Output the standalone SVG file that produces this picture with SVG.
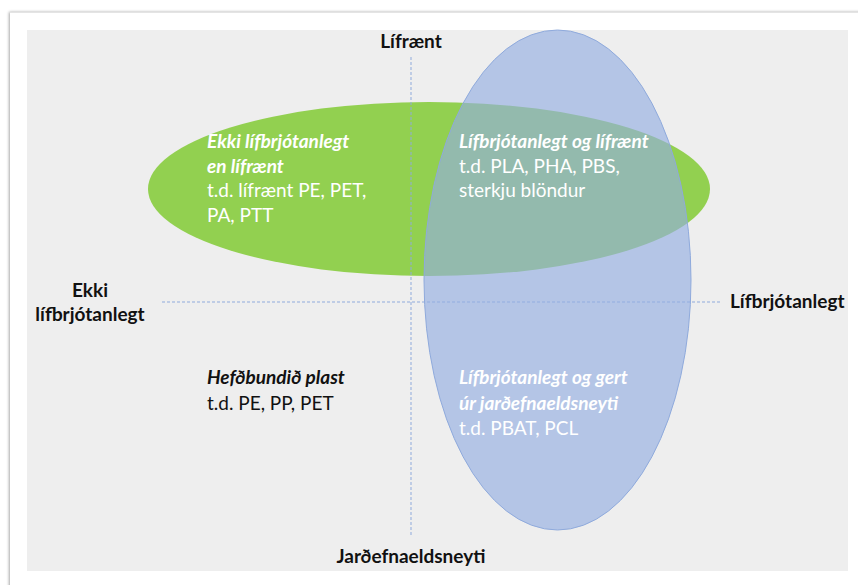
<svg xmlns="http://www.w3.org/2000/svg" width="858" height="585" viewBox="0 0 858 585">
  <defs>
    <filter id="sh" x="-5%" y="-5%" width="110%" height="110%">
      <feGaussianBlur in="SourceAlpha" stdDeviation="1.5"/>
      <feOffset dx="-1" dy="0"/>
      <feComponentTransfer><feFuncA type="linear" slope="0.35"/></feComponentTransfer>
      <feMerge><feMergeNode/><feMergeNode in="SourceGraphic"/></feMerge>
    </filter>
  </defs>
  <style>
    text { font-family: Lato, "Liberation Sans", sans-serif; font-size: 19px; }
    .ax { font-weight: bold; fill: #111111; }
    .h { font-weight: bold; font-style: italic; }
    .w { fill: #ffffff; }
    .k { fill: #111111; }
    .axis { stroke: #8faadc; stroke-width: 1; stroke-dasharray: 3 2; fill: none; }
  </style>
  <rect width="858" height="585" fill="#ffffff"/>
  <rect x="10" y="12" width="860" height="590" fill="#ffffff" filter="url(#sh)"/>
  <line x1="10" y1="12.5" x2="858" y2="12.5" stroke="#e4e4e4" stroke-width="1"/>
  <rect x="27" y="30" width="821" height="541" fill="#eeeeee"/>

  <g id="green-ellipse">
    <ellipse cx="429" cy="189" rx="281" ry="87" fill="#92d050"/>
  </g>
  <g id="connectors">
    <line class="axis" x1="411" y1="57" x2="411" y2="535"/>
    <line class="axis" x1="162" y1="302" x2="722" y2="302"/>
  </g>
  <g id="blue-ellipse">
    <ellipse cx="557.5" cy="280" rx="133.5" ry="250" fill="#93aee1" fill-opacity="0.64" stroke="#8faadc" stroke-width="1"/>
  </g>

  <g id="label-top">
    <text class="ax" x="411" y="48" text-anchor="middle">Lífrænt</text>
  </g>
  <g id="label-bottom">
    <text class="ax" x="411" y="563" text-anchor="middle">Jarðefnaeldsneyti</text>
  </g>
  <g id="label-left">
    <text class="ax" x="90" y="297" text-anchor="middle">Ekki</text>
    <text class="ax" x="90" y="321" text-anchor="middle">lífbrjótanlegt</text>
  </g>
  <g id="label-right">
    <text class="ax" x="730" y="308">Lífbrjótanlegt</text>
  </g>

  <g id="q-top-left">
    <text class="h w" x="207" y="148">Ekki lífbrjótanlegt</text>
    <text class="h w" x="207" y="173">en lífrænt</text>
    <text class="w" x="207" y="197">t.d. lífrænt PE, PET,</text>
    <text class="w" x="207" y="222">PA, PTT</text>
  </g>
  <g id="q-top-right">
    <text class="h w" x="459" y="148">Lífbrjótanlegt og lífrænt</text>
    <text class="w" x="459" y="173">t.d. PLA, PHA, PBS,</text>
    <text class="w" x="459" y="197">sterkju blöndur</text>
  </g>
  <g id="q-bottom-left">
    <text class="h k" x="207" y="384">Hefðbundið plast</text>
    <text class="k" x="207" y="410">t.d. PE, PP, PET</text>
  </g>
  <g id="q-bottom-right">
    <text class="h w" x="459" y="384">Lífbrjótanlegt og gert</text>
    <text class="h w" x="459" y="410">úr jarðefnaeldsneyti</text>
    <text class="w" x="459" y="435">t.d. PBAT, PCL</text>
  </g>
</svg>
